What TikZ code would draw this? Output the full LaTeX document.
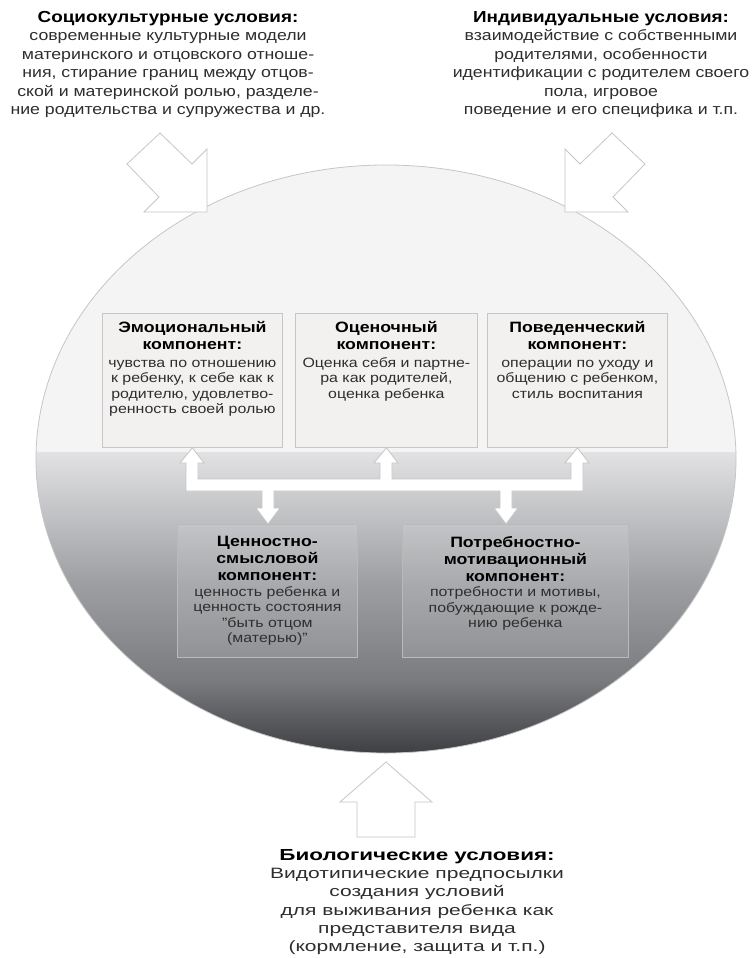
\documentclass[tikz,border=0pt]{standalone}
\usepackage{fontspec}
\setmainfont[FakeStretch=1.18]{Liberation Sans}
\newfontfamily\widefont[FakeStretch=1.4]{Liberation Sans}
\definecolor{edgegray}{HTML}{C6C6C6}
\definecolor{ellup}{HTML}{F4F4F4}
\definecolor{boxfill}{HTML}{F3F1EF}
\definecolor{shA}{HTML}{E2E2E4}
\definecolor{shB}{HTML}{9EA0A3}
\definecolor{shC}{HTML}{7A7B7F}
\definecolor{shD}{HTML}{3C3D41}
\definecolor{bodytext}{HTML}{2E2E2E}
\definecolor{lowedge}{HTML}{B8B9BB}
\newcommand{\ttl}{\bfseries\fontsize{16}{18.5}\selectfont\color{black}}
\newcommand{\boxttl}{\bfseries\fontsize{15}{17}\selectfont\color{black}}
\newcommand{\boxbody}{\fontsize{13.5}{15.5}\selectfont\color{bodytext}}
\newcommand{\bxc}[4]{\parbox[t][#1][t]{#2}{\centering\vspace*{#3}#4}}
\tikzset{
  toptext/.style={align=center, inner sep=0pt, text=bodytext, font=\fontsize{15}{18.5}\selectfont},
  upbox/.style={draw=edgegray, fill=boxfill, line width=0.8pt, inner sep=0pt},
  lowbox/.style={draw=lowedge, fill=white, fill opacity=0.12, text opacity=1, line width=0.8pt, inner sep=0pt},
  blockarrow/.style={draw=edgegray, fill=white, line width=0.8pt, line join=miter}
}
\begin{document}
\begin{tikzpicture}[x=1pt,y=-1pt]
\useasboundingbox (0,0) rectangle (753,958);
\fill[white] (0,0) rectangle (753,958);
% big ellipse with shading
\begin{scope}
  \clip (386,459) ellipse [x radius=350pt, y radius=294pt];
  \fill[ellup] (0,160) rectangle (753,453);
  \shade[top color=shA, bottom color=shB] (0,452) rectangle (753,580.5);
  \shade[top color=shB, bottom color=shC] (0,580) rectangle (753,680.5);
  \shade[top color=shC, bottom color=shD] (0,680) rectangle (753,756);
\end{scope}
\draw[edgegray, line width=0.8pt] (386,459) ellipse [x radius=350pt, y radius=294pt];

% upper boxes
\node[upbox, anchor=north west] (emo) at (102,313) {\bxc{134pt}{180pt}{8pt}{{\boxttl Эмоциональный\\компонент:\par}\vspace{2pt}{\boxbody чувства по отношению\\к ребенку, к себе как к\\родителю, удовлетво-\\ренность своей ролью\par}}};
\node[upbox, anchor=north west] (eval) at (295,313) {\bxc{134pt}{182pt}{8pt}{{\boxttl Оценочный\\компонент:\par}\vspace{2pt}{\boxbody Оценка себя и партне-\\ра как родителей,\\оценка ребенка\par}}};
\node[upbox, anchor=north west] (beh) at (487,313) {\bxc{134pt}{180pt}{8pt}{{\boxttl Поведенческий\\компонент:\par}\vspace{2pt}{\boxbody операции по уходу и\\общению с ребенком,\\стиль воспитания\par}}};

% lower boxes
\node[lowbox, anchor=north west] (val) at (177,524) {\bxc{133pt}{180pt}{12pt}{{\boxttl Ценностно-\\смысловой\\компонент:\par}{\boxbody ценность ребенка и\\ценность состояния\\"быть отцом\\(матерью)"\par}}};
\node[lowbox, anchor=north west] (mot) at (402,524) {\bxc{133pt}{226pt}{12pt}{{\boxttl Потребностно-\\мотивационный\\компонент:\par}{\boxbody потребности и мотивы,\\побуждающие к рожде-\\нию ребенка\par}}};

% connector block arrows
\draw[blockarrow] (186,491) -- (262,491) -- (262,508) -- (256,508) -- (268,524) -- (280,508) -- (274,508) -- (274,491)
  -- (500,491) -- (500,508) -- (494,508) -- (506,524) -- (518,508) -- (512,508) -- (512,491)
  -- (583,491) -- (583,463) -- (589,463) -- (beh.south) -- (565,463) -- (571,463) -- (571,479)
  -- (392,479) -- (392,463) -- (398,463) -- (eval.south) -- (374,463) -- (380,463) -- (380,479)
  -- (198,479) -- (198,463) -- (204,463) -- (emo.south) -- (180,463) -- (186,463) -- cycle;

% outer condition arrows
\draw[blockarrow] (207,212) -- (144,212) -- (159,197) -- (127,164) -- (160,133) -- (192,164) -- (207,149) -- cycle;
\draw[blockarrow] (565,212) -- (628,212) -- (613,197) -- (645,164) -- (612,133) -- (580,164) -- (565,149) -- cycle;
\draw[blockarrow] (386,762) -- (432,802) -- (415,802) -- (415,837) -- (357,837) -- (357,802) -- (340,802) -- cycle;

% condition texts
\node[toptext, anchor=north] (soc) at (168,11) {{\ttl Социокультурные условия:}\\современные культурные модели\\материнского и отцовского отноше-\\ния, стирание границ между отцов-\\ской и материнской ролью, разделе-\\ние родительства и супружества и др.};
\node[toptext, anchor=north] (ind) at (601,11) {{\ttl Индивидуальные условия:}\\взаимодействие с собственными\\родителями, особенности\\идентификации с родителем своего\\пола, игровое\\поведение и его специфика и т.п.};
\node[toptext, anchor=north, font=\widefont\fontsize{15}{18.3}\selectfont] (bio) at (417,849) {{\bfseries\fontsize{16}{18.3}\selectfont\color{black}Биологические условия:}\\Видотипические предпосылки\\создания условий\\для выживания ребенка как\\представителя вида\\(кормление, защита и т.п.)};
\end{tikzpicture}
\end{document}
